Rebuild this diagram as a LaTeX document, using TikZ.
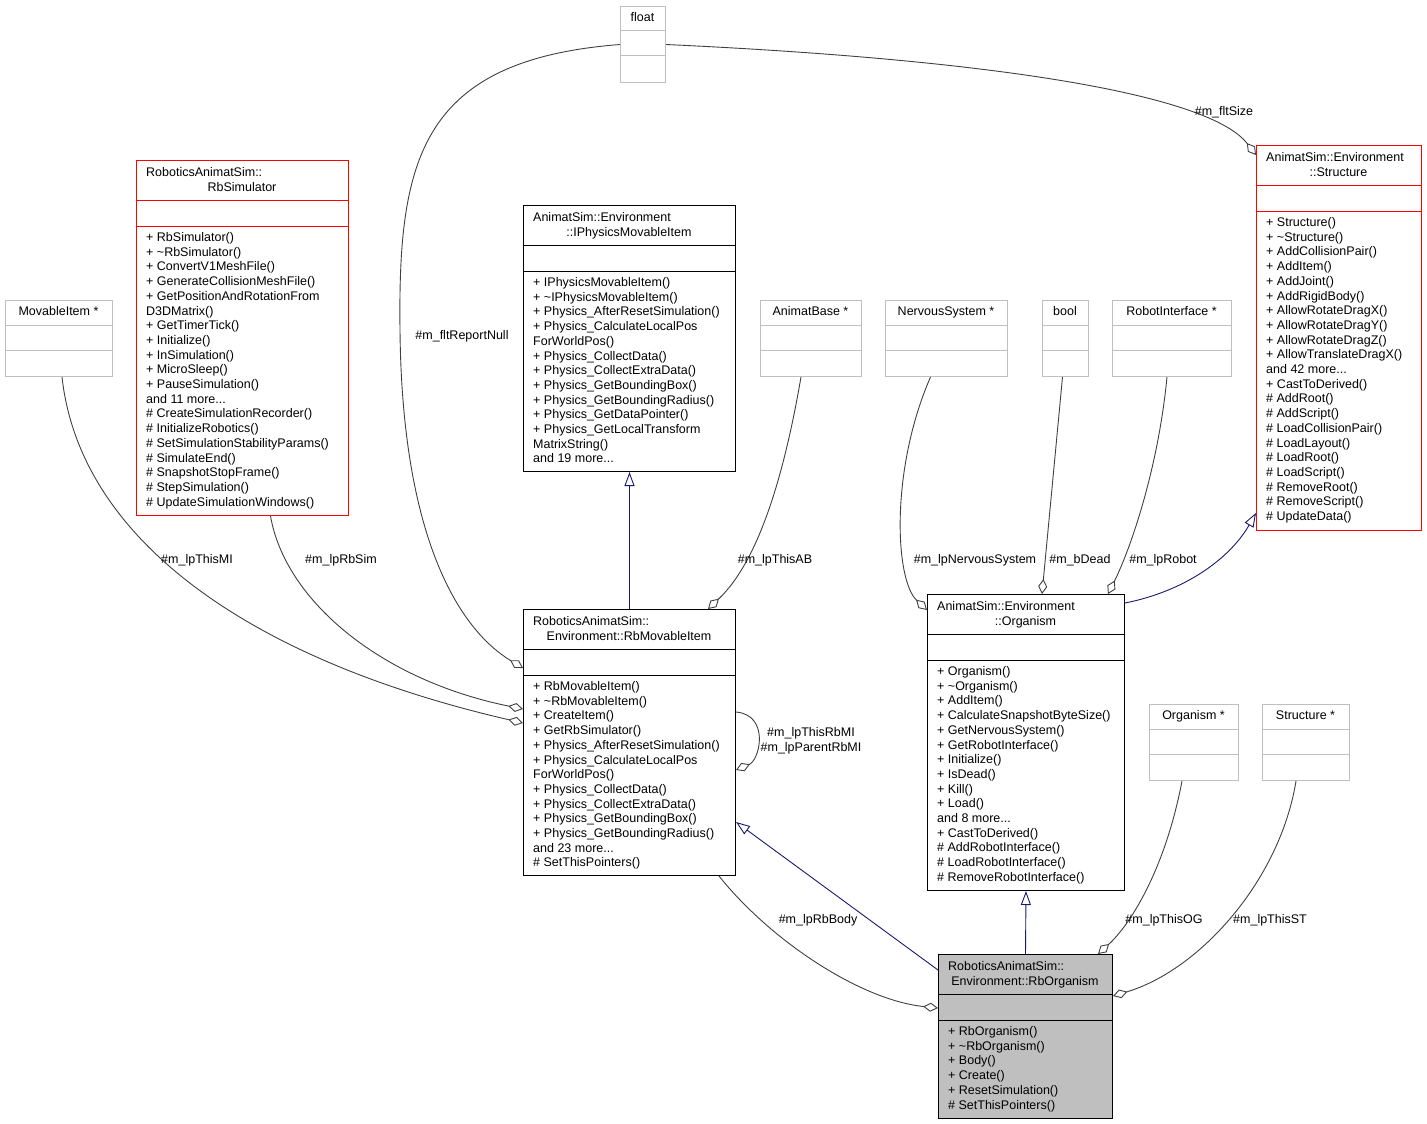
\documentclass[tikz,border=0pt]{standalone}
\usepackage{fontspec}
\setmainfont{Liberation Sans}
\usepackage{xcolor}
\usepackage{tikz}
\usetikzlibrary{arrows.meta}
\definecolor{doxred}{HTML}{FF0000}
\definecolor{doxgrey}{HTML}{BFBFBF}
\definecolor{doxedge}{HTML}{404040}
\definecolor{doxnavy}{HTML}{191970}
\tikzset{
    every node/.style={font=\fontsize{12.5}{14.7}\selectfont, inner sep=0pt},
    plainbox/.style={draw=black, fill=white, line width=1pt},
    redbox/.style={draw=doxred, fill=white, line width=1pt},
    greybox/.style={draw=black, fill=doxgrey, line width=1pt},
    extbox/.style={draw=doxgrey, fill=white, line width=1pt},
    member/.style={anchor=base west},
    assoc/.style={draw=doxedge, line width=0.9pt, -{Diamond[fill=white, length=15pt, width=9pt]}},
    inherit/.style={draw=doxnavy, line width=0.9pt, -{Triangle[fill=white, length=14pt, width=10pt]}}
}
\newcommand{\andmore}[1]{and #1 more...}
\newcommand{\classbox}[9]{%
  \node[#6, minimum width=#4pt, minimum height=#5pt, anchor=north west] (#1) at (#2,#3) {};
  \draw[#6, fill=none] ([yshift=-40pt]#1.north west) -- ([yshift=-40pt]#1.north east);
  \draw[#6, fill=none] ([yshift=-66pt]#1.north west) -- ([yshift=-66pt]#1.north east);
  \node[anchor=base west] (#1-t1) at (#2+10,#3+16.5) {#7};
  \node[anchor=base] (#1-t2) at (#2+#4/2,#3+31) {#8};
  \foreach \m [count=\i] in {#9}
    \node[member] (#1-m\i) at (#2+10,#3+81.5+14.7*\i-14.7) {\m};
}
\newcommand{\typebox}[5]{%
  \node[extbox, minimum width=#4pt, minimum height=76pt, anchor=north west] (#1) at (#2,#3) {};
  \draw[extbox, fill=none] ([yshift=-25pt]#1.north west) -- ([yshift=-25pt]#1.north east);
  \draw[extbox, fill=none] ([yshift=-50pt]#1.north west) -- ([yshift=-50pt]#1.north east);
  \node[anchor=base] (#1-t) at (#2+#4/2,#3+15.5) {#5};
}

\begin{document}
\begin{tikzpicture}[x=1pt, y=-1pt]
    \useasboundingbox (0,0) rectangle (1427,1124);

    \typebox{tfloat}{620}{6}{45}{float}
    \typebox{tmovable}{5}{300}{107}{MovableItem *}
    \typebox{tanimatbase}{760}{300}{101}{AnimatBase *}
    \typebox{tnervous}{885}{300}{122}{NervousSystem *}
    \typebox{tbool}{1042}{300}{46}{bool}
    \typebox{trobot}{1112}{300}{119}{RobotInterface *}
    \typebox{torganism}{1149}{704}{89}{Organism *}
    \typebox{tstructure}{1262}{704}{87}{Structure *}

    \classbox{rbsim}{136}{160}{212}{355}{redbox}{RoboticsAnimatSim::}{RbSimulator}{%
      + RbSimulator(), + \textasciitilde RbSimulator(), + ConvertV1MeshFile(),
      + GenerateCollisionMeshFile(), + GetPositionAndRotationFrom, D3DMatrix(),
      + GetTimerTick(), + Initialize(), + InSimulation(), + MicroSleep(),
      + PauseSimulation(), \andmore{11}, \# CreateSimulationRecorder(),
      \# InitializeRobotics(), \# SetSimulationStabilityParams(), \# SimulateEnd(),
      \# SnapshotStopFrame(), \# StepSimulation(), \# UpdateSimulationWindows()}
    \classbox{iphys}{523}{205}{212}{266}{plainbox}{AnimatSim::Environment}{::IPhysicsMovableItem}{%
      + IPhysicsMovableItem(), + \textasciitilde IPhysicsMovableItem(),
      + Physics\_AfterResetSimulation(), + Physics\_CalculateLocalPos, ForWorldPos(),
      + Physics\_CollectData(), + Physics\_CollectExtraData(), + Physics\_GetBoundingBox(),
      + Physics\_GetBoundingRadius(), + Physics\_GetDataPointer(),
      + Physics\_GetLocalTransform, MatrixString(), \andmore{19}}
    \classbox{structure}{1256}{145}{165}{385}{redbox}{AnimatSim::Environment}{::Structure}{%
      + Structure(), + \textasciitilde Structure(), + AddCollisionPair(), + AddItem(),
      + AddJoint(), + AddRigidBody(), + AllowRotateDragX(), + AllowRotateDragY(),
      + AllowRotateDragZ(), + AllowTranslateDragX(), \andmore{42}, + CastToDerived(),
      \# AddRoot(), \# AddScript(), \# LoadCollisionPair(), \# LoadLayout(), \# LoadRoot(),
      \# LoadScript(), \# RemoveRoot(), \# RemoveScript(), \# UpdateData()}
    \classbox{rbmov}{523}{609}{212}{266}{plainbox}{RoboticsAnimatSim::}{Environment::RbMovableItem}{%
      + RbMovableItem(), + \textasciitilde RbMovableItem(), + CreateItem(),
      + GetRbSimulator(), + Physics\_AfterResetSimulation(),
      + Physics\_CalculateLocalPos, ForWorldPos(), + Physics\_CollectData(),
      + Physics\_CollectExtraData(), + Physics\_GetBoundingBox(),
      + Physics\_GetBoundingRadius(), \andmore{23}, \# SetThisPointers()}
    \classbox{organism}{927}{594}{197}{296}{plainbox}{AnimatSim::Environment}{::Organism}{%
      + Organism(), + \textasciitilde Organism(), + AddItem(),
      + CalculateSnapshotByteSize(), + GetNervousSystem(), + GetRobotInterface(),
      + Initialize(), + IsDead(), + Kill(), + Load(), \andmore{8}, + CastToDerived(),
      \# AddRobotInterface(), \# LoadRobotInterface(), \# RemoveRobotInterface()}
    \classbox{rborg}{938}{954}{174}{164}{greybox}{RoboticsAnimatSim::}{Environment::RbOrganism}{%
      + RbOrganism(), + \textasciitilde RbOrganism(), + Body(), + Create(),
      + ResetSimulation(), \# SetThisPointers()}

    \draw[inherit] (rbmov.north) -- (iphys.south);
    \draw[inherit] ([yshift=-9pt]organism.north east) .. controls (1190,590) and (1232,555) .. ([yshift=18pt]structure.south west);
    \draw[inherit] ([yshift=-16pt]rborg.north west) -- ([yshift=-213pt]rbmov.north east);
    \draw[inherit] (rborg.north) -- (organism.south);

    \draw[assoc] (tfloat.west) .. controls (420,60) and (398,160) .. (400,330)
        .. controls (402,540) and (460,630) .. ([yshift=-59pt]rbmov.north west);
    \draw[assoc] (tfloat.east) .. controls (1000,60) and (1210,95) .. ([yshift=-10pt]structure.north west);
    \draw[assoc] ([xshift=3pt]tmovable.south) .. controls (80,540) and (250,660) .. ([yshift=-114pt]rbmov.north west);
    \draw[assoc] ([xshift=28pt]rbsim.south) .. controls (285,600) and (380,680) .. ([yshift=-100pt]rbmov.north west);
    \draw[assoc] ([xshift=-10pt]tanimatbase.south) .. controls (785,470) and (760,560) .. ([xshift=-28pt]rbmov.north east);
    \draw[assoc] ([yshift=-103pt]rbmov.north east) .. controls (770,715) and (760,760) .. ([yshift=-161pt]rbmov.north east);
    \draw[assoc] ([xshift=-16pt]tnervous.south) .. controls (890,470) and (895,580) .. ([yshift=-16pt]organism.north west);
    \draw[assoc] ([xshift=-3pt]tbool.south) -- ([xshift=115pt]organism.north west);
    \draw[assoc] ([xshift=-5pt]trobot.south) .. controls (1158,470) and (1130,550) .. ([xshift=-17pt]organism.north east);
    \draw[assoc] ([xshift=-17pt]rbmov.south east) .. controls (770,940) and (860,1000) .. ([yshift=-54pt]rborg.north west);
    \draw[assoc] ([xshift=-12pt]torganism.south) .. controls (1165,870) and (1130,925) .. ([xshift=-15pt]rborg.north east);
    \draw[assoc] ([xshift=-10pt]tstructure.south) .. controls (1280,880) and (1200,970) .. ([yshift=-42pt]rborg.north east);

    \node (lblreport) at (462,336) {\#m\_fltReportNull};
    \node (lblsize) at (1224,112) {\#m\_fltSize};
    \node (lblthismi) at (197,560) {\#m\_lpThisMI};
    \node (lblrbsim) at (341,560) {\#m\_lpRbSim};
    \node (lblthisab) at (775,560) {\#m\_lpThisAB};
    \node (lblnervous) at (975,560) {\#m\_lpNervousSystem};
    \node (lbldead) at (1080,560) {\#m\_bDead};
    \node (lblrobot) at (1163,560) {\#m\_lpRobot};
    \node[align=center] (lblself) at (811,741) {\#m\_lpThisRbMI\\\#m\_lpParentRbMI};
    \node (lblbody) at (818,920) {\#m\_lpRbBody};
    \node (lblthisog) at (1164,920) {\#m\_lpThisOG};
    \node (lblthisst) at (1270,920) {\#m\_lpThisST};
\end{tikzpicture}
\end{document}
